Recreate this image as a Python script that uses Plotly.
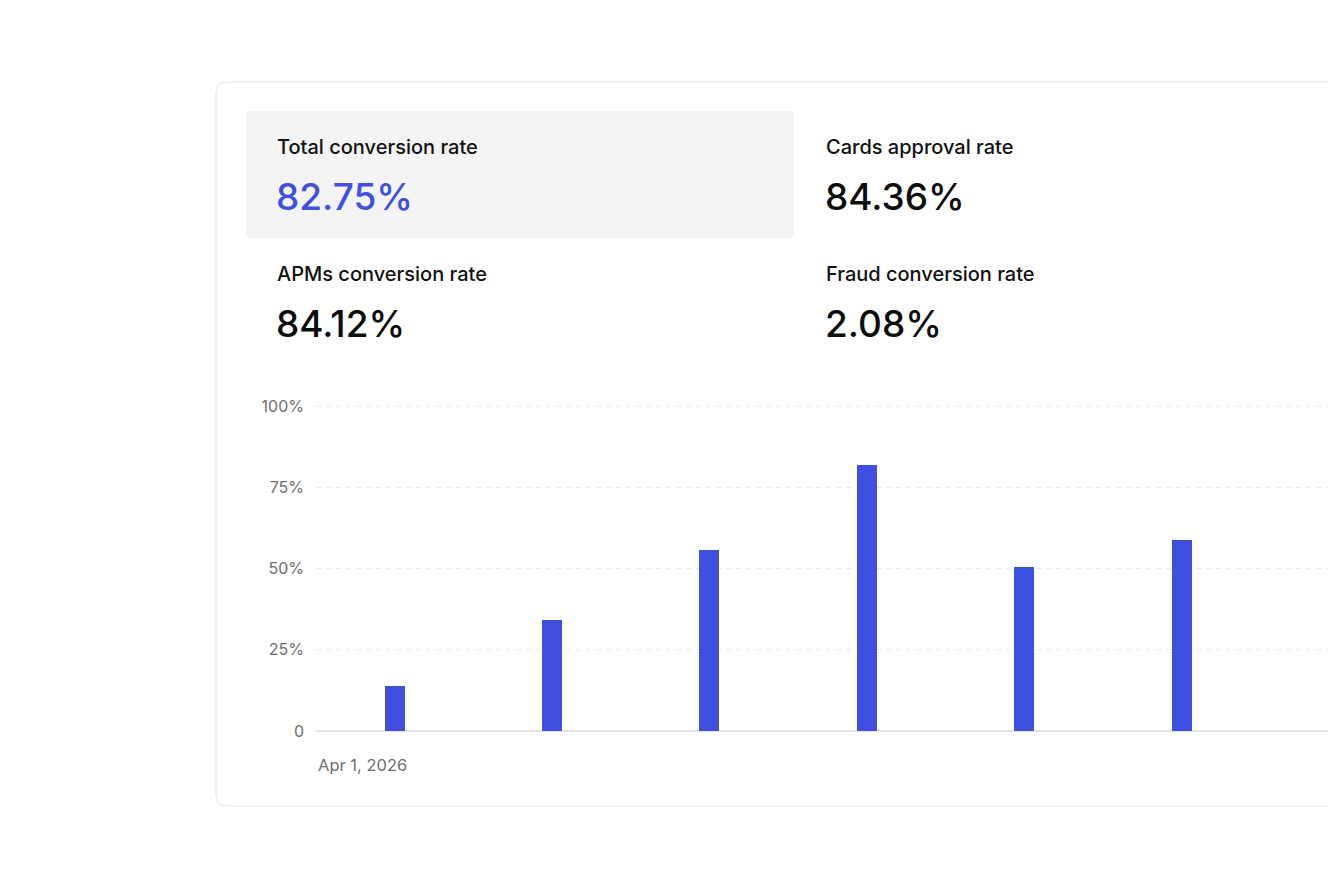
import plotly.graph_objects as go

# KPI tiles
kpi_labels = ["Total conversion rate", "Cards approval rate",
              "APMs conversion rate", "Fraud conversion rate"]
kpi_values = ["82.75%", "84.36%", "84.12%", "2.08%"]

# bar chart
periods = [0, 1, 2, 3, 4, 5]
conversion = [14.0, 34.3, 55.8, 82.0, 50.6, 58.9]
y_ticks = [0, 25, 50, 75, 100]
y_tick_labels = ["0", "25%", "50%", "75%", "100%"]
start_label = "Apr 1, 2026"

W, H = 1328, 888
ML, MR, MT, MB = 316, 0, 400, 157
Y_TOP = (H - MB - MT) / 3.25  # 3.25 px per percent, 100% gridline stays inside
BLUE = "#3f4fe0"
FONT = "Inter"


def px(x):
    return (x - ML) / (W - ML - MR)


def py(y):
    return (H - MB - y) / (H - MT - MB)


def rounded_rect(x0, y0, x1, y1, r):
    # path in paper coords, corners via quadratic curves
    a, b, c, d = px(x0), px(x1), py(y0), py(y1)
    rx = r / (W - ML - MR)
    ry = r / (H - MT - MB)
    return (f"M{a + rx},{c} L{b - rx},{c} Q{b},{c} {b},{c - ry} "
            f"L{b},{d + ry} Q{b},{d} {b - rx},{d} L{a + rx},{d} "
            f"Q{a},{d} {a},{d + ry} L{a},{c - ry} Q{a},{c} {a + rx},{c} Z")


fig = go.Figure()
fig.add_trace(go.Bar(
    x=periods, y=conversion, width=0.127,
    marker=dict(color=BLUE, line=dict(width=0)),
    hoverinfo="skip", showlegend=False,
))

shapes = [
    dict(type="path", xref="paper", yref="paper", layer="below",
         path=rounded_rect(216, 82, 1345, 806, 11),
         fillcolor="white", line=dict(color="#e4e4e4", width=1)),
    dict(type="rect", xref="paper", yref="paper", layer="below",
         x0=px(246), x1=px(794), y0=py(111), y1=py(238),
         fillcolor="#f4f4f4", line=dict(width=0)),
]

annotations = []
tile_x = [276, 825, 276, 825]
tile_y = [147, 147, 274, 274]
for i, (lab, val) in enumerate(zip(kpi_labels, kpi_values)):
    annotations.append(dict(
        text=lab, xref="paper", yref="paper", x=px(tile_x[i] - 1), y=py(tile_y[i]),
        xanchor="left", yanchor="middle", showarrow=False,
        font=dict(family=FONT, size=20, color="#111111", weight=500),
    ))
    annotations.append(dict(
        text=val, xref="paper", yref="paper", x=px(tile_x[i] - 2), y=py(tile_y[i] + 49),
        xanchor="left", yanchor="middle", showarrow=False,
        font=dict(family=FONT, size=37, color=BLUE if i == 0 else "#0d0d0d",
                  weight=500),
    ))
annotations.append(dict(
    text=start_label, xref="paper", yref="paper", x=px(316), y=py(765),
    xanchor="left", yanchor="middle", showarrow=False,
    font=dict(family=FONT, size=16.5, color="#6e6e6e"),
))

fig.update_layout(
    width=W, height=H,
    margin=dict(l=ML, r=MR, t=MT, b=MB, pad=0),
    paper_bgcolor="white", plot_bgcolor="rgba(0,0,0,0)",
    shapes=shapes, annotations=annotations,
    xaxis=dict(range=[-0.5, 5.93], showticklabels=False, showgrid=False,
               zeroline=False, showline=False, fixedrange=True),
    yaxis=dict(range=[0, Y_TOP], tickvals=y_ticks, ticktext=y_tick_labels,
               showgrid=True, gridcolor="#e6e6e6", gridwidth=1, griddash="5px,5px",
               zeroline=True, zerolinecolor="#e4e4e8", zerolinewidth=2,
               showline=False, ticklabelstandoff=11, fixedrange=True,
               tickfont=dict(family=FONT, size=16, color="#6e6e6e")),
    bargap=0,
    hovermode=False,
)

fig.write_html("out.html", config={"displayModeBar": False},
               post_script="document.body.style.margin='0';"
                           "document.body.style.overflow='hidden';")
